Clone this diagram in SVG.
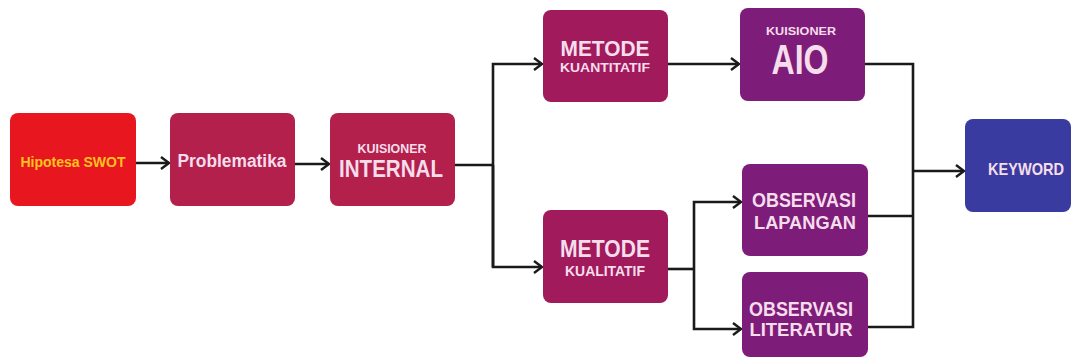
<svg xmlns="http://www.w3.org/2000/svg" width="1078" height="362" viewBox="0 0 1078 362">
<defs>
<style>
.box{stroke:none}
.red{fill:#E8161F}
.crim{fill:#B3204C}
.mag{fill:#A11A5C}
.pur{fill:#7D1C79}
.blue{fill:#3A3BA0}
text{font-family:"Liberation Sans Narrow","Liberation Sans",Arial,sans-serif;font-weight:bold;text-anchor:middle;fill:#F6DDEB}
.conn{fill:none;stroke:#1a1a1a;stroke-width:2.6}
</style>
<marker id="arr" markerWidth="12" markerHeight="14" refX="10" refY="7" orient="auto" markerUnits="userSpaceOnUse">
<path d="M2,1 L10,7 L2,13" fill="none" stroke="#1a1a1a" stroke-width="2.4"/>
</marker>
</defs>
<rect width="1078" height="362" fill="#ffffff"/>
<g id="connectors" class="conn">
<path d="M136,163 H169" marker-end="url(#arr)"/>
<path d="M295,164 H329" marker-end="url(#arr)"/>
<path d="M455,165 H493"/>
<path d="M493,267 V64 H542" marker-end="url(#arr)"/>
<path d="M493,165 V267 H542" marker-end="url(#arr)"/>
<path d="M668,64 H739" marker-end="url(#arr)"/>
<path d="M668,269 H694"/>
<path d="M694,269 V202 H741" marker-end="url(#arr)"/>
<path d="M694,269 V329 H741" marker-end="url(#arr)"/>
<path d="M865,64 H913 V327 H868"/>
<path d="M868,216 H913"/>
<path d="M913,171 H964" marker-end="url(#arr)"/>
</g>
<g id="hipotesa">
<rect class="box red" x="10" y="113" width="126" height="93" rx="8"/>
<text x="73" y="167" font-size="14" textLength="105" lengthAdjust="spacingAndGlyphs" style="fill:#FFC21F">Hipotesa SWOT</text>
</g>
<g id="problematika">
<rect class="box crim" x="170" y="113" width="125" height="93" rx="8"/>
<text x="232" y="167" font-size="18" textLength="109" lengthAdjust="spacingAndGlyphs">Problematika</text>
</g>
<g id="internal">
<rect class="box crim" x="330" y="113" width="125" height="93" rx="8"/>
<text x="392" y="153" font-size="12" textLength="69" lengthAdjust="spacingAndGlyphs">KUISIONER</text>
<text x="391" y="177" font-size="24" textLength="104" lengthAdjust="spacingAndGlyphs">INTERNAL</text>
</g>
<g id="kuantitatif">
<rect class="box mag" x="543" y="10" width="125" height="92" rx="8"/>
<text x="605" y="56" font-size="22" textLength="89" lengthAdjust="spacingAndGlyphs">METODE</text>
<text x="605" y="72" font-size="13" textLength="90" lengthAdjust="spacingAndGlyphs">KUANTITATIF</text>
</g>
<g id="aio">
<rect class="box pur" x="740" y="8" width="125" height="93" rx="8"/>
<text x="801" y="35" font-size="11.5" textLength="70" lengthAdjust="spacingAndGlyphs">KUISIONER</text>
<text x="800" y="74" font-size="42" textLength="57" lengthAdjust="spacingAndGlyphs">AIO</text>
</g>
<g id="kualitatif">
<rect class="box mag" x="543" y="210" width="125" height="93" rx="8"/>
<text x="605" y="257" font-size="24" textLength="90" lengthAdjust="spacingAndGlyphs">METODE</text>
<text x="605" y="276" font-size="14" textLength="80" lengthAdjust="spacingAndGlyphs">KUALITATIF</text>
</g>
<g id="lapangan">
<rect class="box pur" x="742" y="164" width="126" height="92" rx="8"/>
<text x="804" y="207" font-size="21" textLength="104" lengthAdjust="spacingAndGlyphs">OBSERVASI</text>
<text x="805" y="229" font-size="19" textLength="102" lengthAdjust="spacingAndGlyphs">LAPANGAN</text>
</g>
<g id="literatur">
<rect class="box pur" x="742" y="272" width="126" height="85" rx="8"/>
<text x="801" y="316" font-size="21" textLength="104" lengthAdjust="spacingAndGlyphs">OBSERVASI</text>
<text x="801" y="336" font-size="19" textLength="103" lengthAdjust="spacingAndGlyphs">LITERATUR</text>
</g>
<g id="keyword">
<rect class="box blue" x="965" y="119" width="106" height="93" rx="8"/>
<text x="1026" y="175" font-size="17" textLength="76" lengthAdjust="spacingAndGlyphs">KEYWORD</text>
</g>
</svg>
